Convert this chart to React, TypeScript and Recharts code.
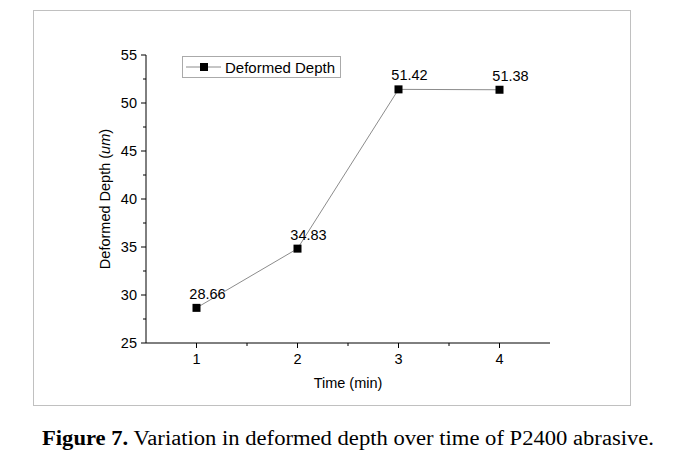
import { LineChart, Line, XAxis, YAxis, LabelList, Label } from 'recharts';

const times = [1, 2, 3, 4];
const depths = [28.66, 34.83, 51.42, 51.38];
const xTicks = [1, 1.5, 2, 2.5, 3, 3.5, 4];
const yTicks = [25, 27.5, 30, 32.5, 35, 37.5, 40, 42.5, 45, 47.5, 50, 52.5, 55];

const data = times.map((t, i) => ({ time: t, depth: depths[i] }));

const FONT = '"Liberation Sans", Arial, sans-serif';

function XTick(props: any) {
    const { x, y, payload } = props;
    const major = Number.isInteger(payload.value);
    return (
        <g>
            <line x1={x} x2={x} y1={y} y2={y + (major ? 5 : 3)} stroke="#000" />
            {major && (
                <text x={x} y={y + 21} textAnchor="middle" fontSize={14.5} fontFamily={FONT} fill="#000">
                    {payload.value}
                </text>
            )}
        </g>
    );
}

function YTick(props: any) {
    const { x, y, payload } = props;
    const major = payload.value % 5 === 0;
    return (
        <g>
            <line x1={x} x2={x - (major ? 5 : 3)} y1={y} y2={y} stroke="#000" />
            {major && (
                <text x={x - 9} y={y + 5} textAnchor="end" fontSize={14.5} fontFamily={FONT} fill="#000">
                    {payload.value}
                </text>
            )}
        </g>
    );
}

function SquareDot(props: any) {
    const { cx, cy } = props;
    return <rect x={cx - 4} y={cy - 4} width={8} height={8} fill="#000" />;
}

function ValueLabel(props: any) {
    const { x, y, value } = props;
    return (
        <text x={x + 11} y={y - 9} textAnchor="middle" fontSize={14.5} fontFamily={FONT} fill="#000">
            {value.toFixed(2)}
        </text>
    );
}

function YTitle(props: any) {
    const { viewBox } = props;
    const cx = viewBox.x + viewBox.width - 36;
    const cy = viewBox.y + viewBox.height / 2;
    return (
        <text x={cx} y={cy} transform={`rotate(-90 ${cx} ${cy})`} textAnchor="middle" fontSize={14.5} fontFamily={FONT} fill="#000">
            Deformed Depth (<tspan fontStyle="italic">um</tspan>)
        </text>
    );
}

export default function App() {
    return (
        <div style={{ position: 'absolute', left: 0, top: 0, width: 682, height: 457, background: '#fff' }}>
            <div style={{ position: 'absolute', left: 33, top: 10, width: 596, height: 394, border: '1px solid #c0c0c0' }} />
            <div style={{ position: 'absolute', left: 0, top: 0 }}>
                <LineChart width={682} height={400} data={data} margin={{ top: 55, right: 132, bottom: 7, left: 33 }}>
                    <XAxis
                        dataKey="time"
                        type="number"
                        domain={[0.5, 4.5]}
                        ticks={xTicks}
                        interval={0}
                        tickSize={0}
                        tickMargin={0}
                        tickLine={false}
                        tick={<XTick />}
                        height={50}
                        stroke="#000"
                    >
                        <Label value="Time (min)" position="insideBottom" offset={5} fontSize={14.5} fontFamily={FONT} fill="#000" />
                    </XAxis>
                    <YAxis
                        type="number"
                        domain={[25, 55]}
                        ticks={yTicks}
                        interval={0}
                        tickSize={0}
                        tickMargin={0}
                        tickLine={false}
                        tick={<YTick />}
                        width={113}
                        stroke="#000"
                        label={<YTitle />}
                    />
                    <Line
                        dataKey="depth"
                        name="Deformed Depth"
                        stroke="#8c8c8c"
                        strokeWidth={1}
                        dot={<SquareDot />}
                        activeDot={false}
                        isAnimationActive={false}
                    >
                        <LabelList dataKey="depth" content={<ValueLabel />} />
                    </Line>
                </LineChart>
            </div>
            <div style={{
                position: 'absolute', left: 182, top: 56, width: 157, height: 20, border: '1px solid #aaa',
                display: 'flex', alignItems: 'center', fontFamily: FONT, fontSize: 15, background: '#fff'
            }}>
                <svg width={42} height={20}>
                    <line x1={3} x2={38} y1={10} y2={10} stroke="#8c8c8c" />
                    <rect x={17} y={6} width={8} height={8} fill="#000" />
                </svg>
                <span>Deformed Depth</span>
            </div>
            <svg style={{ position: 'absolute', left: 0, top: 420 }} width={682} height={37}>
                <text x={42} y={25} textLength={612} lengthAdjust="spacingAndGlyphs" fontSize={20} fontFamily='"Liberation Serif", "Times New Roman", serif' fill="#000">
                    <tspan fontWeight="bold">Figure 7.</tspan> Variation in deformed depth over time of P2400 abrasive.
                </text>
            </svg>
        </div>
    );
}
